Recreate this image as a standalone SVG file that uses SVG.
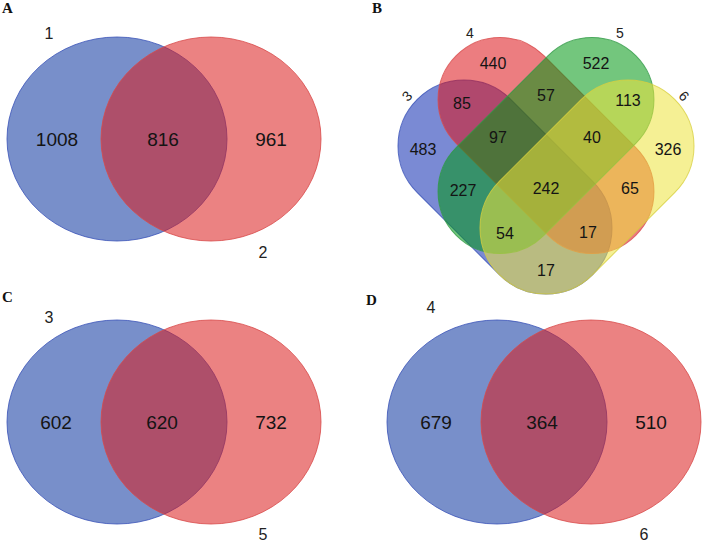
<svg xmlns="http://www.w3.org/2000/svg" width="708" height="547" viewBox="0 0 708 547">
<style>
  .bg{fill:#ffffff}
  .pl{font-family:"Liberation Serif","Times New Roman",serif;font-weight:bold;font-size:15px;fill:#111}
  .num{font-family:"Liberation Sans",Arial,sans-serif;font-size:19px;fill:#141414;text-anchor:middle}
  .numB{font-family:"Liberation Sans",Arial,sans-serif;font-size:16px;fill:#141414;text-anchor:middle}
  .cat{font-family:"Liberation Sans",Arial,sans-serif;font-size:16px;fill:#222;text-anchor:middle}
  .catB{font-family:"Liberation Sans",Arial,sans-serif;font-size:14px;fill:#222;text-anchor:middle}
  .sb{fill:#09339f;fill-opacity:0.55;stroke:#3a52b8;stroke-opacity:0.8;stroke-width:1}
  .sr{fill:#db1c1c;fill-opacity:0.55;stroke:#d84a4a;stroke-opacity:0.8;stroke-width:1}
  .b3{fill:#0d2ab0;fill-opacity:0.55;stroke:#3a52b8;stroke-opacity:0.8;stroke-width:1}
  .b4{fill:#dc1218;fill-opacity:0.55;stroke:#d84a4a;stroke-opacity:0.8;stroke-width:1}
  .b5{fill:#009712;fill-opacity:0.55;stroke:#2f9a45;stroke-opacity:0.8;stroke-width:1}
  .b6{fill:#ece33c;fill-opacity:0.55;stroke:#d8d040;stroke-opacity:0.8;stroke-width:1}
</style>
<rect class="bg" x="0" y="0" width="708" height="547"/>

<!-- Panel A -->
<g id="panelA">
  <text class="pl" x="2" y="13">A</text>
  <g id="A-set1"><ellipse class="sb" cx="117" cy="139" rx="110" ry="102"/></g>
  <g id="A-set2"><ellipse class="sr" cx="211" cy="139" rx="110" ry="102"/></g>
  <text class="cat" x="49" y="39">1</text>
  <text class="cat" x="263" y="258">2</text>
  <text class="num" x="57" y="146">1008</text>
  <text class="num" x="163" y="146">816</text>
  <text class="num" x="271" y="146">961</text>
</g>

<!-- Panel B -->
<g id="panelB">
  <text class="pl" x="372" y="13">B</text>
  <g id="B-set3"><rect class="b3" x="-124" y="-66" width="248" height="132" rx="66" ry="66" transform="translate(505 187) rotate(45)"/></g>
  <g id="B-set4"><rect class="b4" x="-127" y="-62" width="254" height="124" rx="62" ry="62" transform="translate(546 145.5) rotate(45)"/></g>
  <g id="B-set5"><rect class="b5" x="-127" y="-62" width="254" height="124" rx="62" ry="62" transform="translate(546 145.5) rotate(-45)"/></g>
  <g id="B-set6"><rect class="b6" x="-124" y="-66" width="248" height="132" rx="66" ry="66" transform="translate(587 187) rotate(-45)"/></g>
  <text class="catB" x="470" y="38">4</text>
  <text class="catB" x="620" y="38">5</text>
  <text class="catB" transform="translate(407 96) rotate(-45)" x="0" y="5">3</text>
  <text class="catB" transform="translate(684 96) rotate(45)" x="0" y="5">6</text>
  <text class="numB" x="493" y="69">440</text>
  <text class="numB" x="596" y="69">522</text>
  <text class="numB" x="462" y="109">85</text>
  <text class="numB" x="546" y="101">57</text>
  <text class="numB" x="628" y="106">113</text>
  <text class="numB" x="423" y="155">483</text>
  <text class="numB" x="498" y="143">97</text>
  <text class="numB" x="592" y="143">40</text>
  <text class="numB" x="668" y="155">326</text>
  <text class="numB" x="463" y="196">227</text>
  <text class="numB" x="546" y="194">242</text>
  <text class="numB" x="630" y="194">65</text>
  <text class="numB" x="505" y="239">54</text>
  <text class="numB" x="588" y="238">17</text>
  <text class="numB" x="546" y="276">17</text>
</g>

<!-- Panel C -->
<g id="panelC">
  <text class="pl" x="2" y="302">C</text>
  <g id="C-set3"><ellipse class="sb" cx="117" cy="422" rx="110" ry="102"/></g>
  <g id="C-set5"><ellipse class="sr" cx="211" cy="422" rx="110" ry="102"/></g>
  <text class="cat" x="49" y="323">3</text>
  <text class="cat" x="263" y="540">5</text>
  <text class="num" x="56" y="429">602</text>
  <text class="num" x="162" y="429">620</text>
  <text class="num" x="271" y="429">732</text>
</g>

<!-- Panel D -->
<g id="panelD">
  <text class="pl" x="366" y="305">D</text>
  <g id="D-set4"><ellipse class="sb" cx="497" cy="422" rx="110" ry="102"/></g>
  <g id="D-set6"><ellipse class="sr" cx="591" cy="422" rx="110" ry="102"/></g>
  <text class="cat" x="431" y="313">4</text>
  <text class="cat" x="644" y="540">6</text>
  <text class="num" x="436" y="429">679</text>
  <text class="num" x="542" y="429">364</text>
  <text class="num" x="651" y="429">510</text>
</g>

<g id="connectors"></g>
</svg>
